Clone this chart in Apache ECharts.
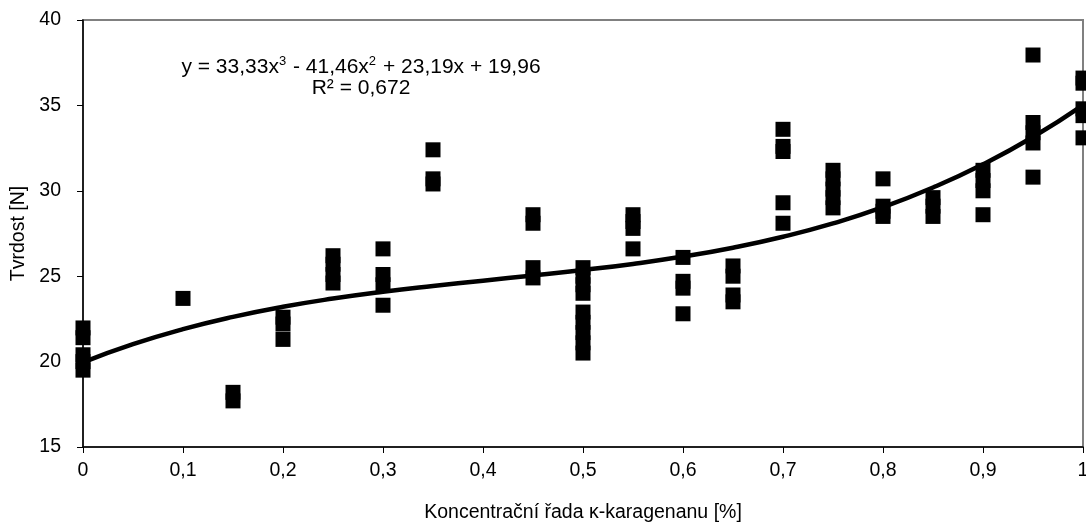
<!DOCTYPE html>
<html>
<head>
<meta charset="utf-8">
<script src="https://cdn.jsdelivr.net/npm/echarts@6/dist/echarts.min.js"></script>
<style>
html,body{margin:0;padding:0;background:#fff;}
#chart{width:1086px;height:529px;}
</style>
</head>
<body>
<div id="chart"></div>
<script>
// Concentrations (x) and measured hardness values (y) per concentration
var concentrations = [0, 0.1, 0.15, 0.2, 0.25, 0.3, 0.35, 0.45, 0.5, 0.55, 0.6, 0.65, 0.7, 0.75, 0.8, 0.85, 0.9, 0.95, 1];
var hardness = [
  [21.97, 21.4, 20.4, 20.0, 19.5],
  [23.7],
  [18.2, 17.7],
  [22.6, 22.2, 21.3],
  [26.2, 25.7, 25.1, 24.6],
  [26.6, 25.1, 24.5, 23.3],
  [32.4, 30.7, 30.4],
  [28.6, 28.1, 25.5, 24.9],
  [25.5, 25.0, 24.5, 24.0, 22.9, 22.3, 21.7, 21.1, 20.5],
  [28.6, 28.2, 27.8, 26.6],
  [26.1, 24.7, 24.3, 22.8],
  [25.6, 25.0, 23.9, 23.5],
  [33.6, 32.6, 32.3, 29.3, 28.1],
  [31.2, 30.7, 30.1, 29.6, 29.0],
  [30.7, 29.1, 28.8, 28.5],
  [29.6, 29.1, 28.5],
  [31.2, 30.6, 30.0, 28.6],
  [37.95, 34.0, 33.4, 32.8, 30.8],
  [36.6, 36.3, 34.8, 34.4, 33.1]
];
// Trend line
var trendX = [0, 0.05, 0.1, 0.15, 0.2, 0.25, 0.3, 0.35, 0.4, 0.45, 0.5, 0.55, 0.6, 0.65, 0.7, 0.75, 0.8, 0.85, 0.9, 0.95, 1];
var trendY = [19.96, 21.02, 21.90, 22.62, 23.21, 23.69, 24.09, 24.43, 24.74, 25.04, 25.36, 25.72, 26.15, 26.67, 27.31, 28.09, 29.04, 30.19, 31.55, 33.15, 35.02];
var xAxisTitle = 'Koncentrační řada κ-karagenanu [%]';
var yAxisTitle = 'Tvrdost [N]';

var scatterData = [];
concentrations.forEach(function (c, i) {
  hardness[i].forEach(function (v) { scatterData.push([c, v]); });
});
var trendData = trendX.map(function (x, i) { return [x, trendY[i]]; });

var font = 'Liberation Sans, Arial, sans-serif';
var chart = echarts.init(document.getElementById('chart'), null, {renderer: 'canvas'});
chart.setOption({
  animation: false,
  backgroundColor: '#ffffff',
  grid: {left: 83, right: 3, top: 20, bottom: 82, containLabel: false, outerBoundsMode: 'none',
    show: true, borderColor: '#808080', borderWidth: 2, backgroundColor: '#ffffff'},
  xAxis: {
    type: 'value', min: 0, max: 1, interval: 0.1,
    name: xAxisTitle, nameLocation: 'middle', nameGap: 56,
    nameTextStyle: {color: '#000', fontFamily: font, fontSize: 19.5},
    axisLine: {show: true, lineStyle: {color: '#000', width: 1.5}},
    axisTick: {show: true, length: 6, lineStyle: {color: '#000'}},
    splitLine: {show: false},
    axisLabel: {color: '#000', fontFamily: font, fontSize: 19.5, margin: 14, hideOverlap: false,
      formatter: function (v) { return String(Math.round(v * 10) / 10).replace('.', ','); }}
  },
  yAxis: {
    type: 'value', min: 15, max: 40, interval: 5,
    name: yAxisTitle, nameLocation: 'middle', nameGap: 53, nameRotate: 90,
    nameTextStyle: {color: '#000', fontFamily: font, fontSize: 19.5},
    axisLine: {show: true, lineStyle: {color: '#000', width: 1.5}},
    axisTick: {show: true, length: 6, lineStyle: {color: '#000'}},
    splitLine: {show: false},
    axisLabel: {color: '#000', fontFamily: font, fontSize: 19.5, margin: 22}
  },
  series: [
    {
      type: 'scatter', data: scatterData, symbol: 'rect', symbolSize: 15,
      itemStyle: {color: '#000', opacity: 1}, clip: false, z: 3
    },
    {
      type: 'line', data: trendData, smooth: true, showSymbol: false, symbol: 'none',
      lineStyle: {color: '#000', width: 4.5}, z: 4
    }
  ],
  graphic: [
    {type: 'text', x: 361, y: 55, style: {
      text: 'y = 33,33x{s|3} - 41,46x{s|2} + 23,19x + 19,96', align: 'center', fill: '#000', font: '21px ' + font,
      rich: {s: {fontSize: 13, verticalAlign: 'top', lineHeight: 24, fill: '#000', fontFamily: font, padding: [0, 1, 9, 0]}}}},
    {type: 'text', x: 361, y: 78, style: {
      text: 'R² = 0,672', align: 'center', fill: '#000', font: '21px ' + font}}
  ]
});
</script>
</body>
</html>
